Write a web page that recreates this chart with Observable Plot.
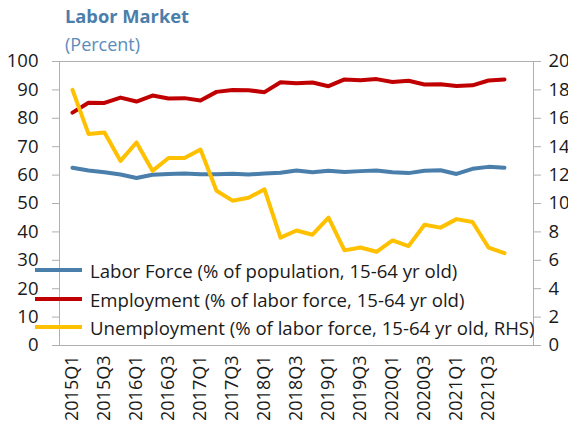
<!DOCTYPE html>
<html><head><meta charset="utf-8">
<script src="https://cdn.jsdelivr.net/npm/d3@7"></script>
<script src="https://cdn.jsdelivr.net/npm/@observablehq/plot@0.6"></script>
<style>
body{margin:0;background:#fff;font-family:"Open Sans",sans-serif}
#wrap{position:relative;width:568px;height:428px;overflow:hidden}
#title{position:absolute;left:65px;top:3px;font-weight:bold;font-size:18.3px;color:#4a7eab;white-space:nowrap}
#sub{position:absolute;left:65px;top:32px;font-size:18px;color:#5b8cbb;white-space:nowrap}
#chart{position:absolute;left:0;top:0}
.lg{position:absolute;left:35px;height:22px;display:flex;align-items:center;white-space:nowrap;font-size:18.6px;color:#1a1a1a}
.lg span.ln{display:inline-block;width:47px;height:4px;margin-right:8px}
</style></head><body>
<div id="wrap">
<div id="chart"></div>
<div id="title">Labor Market</div>
<div id="sub">(Percent)</div>
<div id="legend"></div>
</div>
<script>
const quarters = ["2015Q1","2015Q2","2015Q3","2015Q4","2016Q1","2016Q2","2016Q3","2016Q4",
"2017Q1","2017Q2","2017Q3","2017Q4","2018Q1","2018Q2","2018Q3","2018Q4",
"2019Q1","2019Q2","2019Q3","2019Q4","2020Q1","2020Q2","2020Q3","2020Q4",
"2021Q1","2021Q2","2021Q3","2021Q4","2022Q1"];
const laborForce = [62.6,61.6,61.0,60.2,59.0,60.1,60.4,60.6,60.3,60.3,60.5,60.2,60.6,60.8,61.6,61.0,61.5,61.1,61.4,61.6,61.0,60.7,61.5,61.7,60.4,62.2,62.9,62.6];
const employment = [82.0,85.5,85.4,87.3,85.9,88.0,87.0,87.1,86.3,89.3,90.0,89.9,89.2,92.7,92.3,92.6,91.3,93.7,93.4,93.8,92.8,93.2,91.9,92.0,91.4,91.6,93.3,93.7];
const unemployment = [18.0,14.9,15.0,13.0,14.3,12.3,13.2,13.2,13.8,10.9,10.2,10.4,11.0,7.6,8.1,7.8,9.0,6.7,6.9,6.6,7.4,7.0,8.5,8.3,8.9,8.7,6.9,6.5];
const leftTicks = [0,10,20,30,40,50,60,70,80,90,100];
const rightTicks = [0,2,4,6,8,10,12,14,16,18,20];
const tickLabels = ["2015Q1","2015Q3","2016Q1","2016Q3","2017Q1","2017Q3","2018Q1","2018Q3","2019Q1","2019Q3","2020Q1","2020Q3","2021Q1","2021Q3"];
const seriesNames = ["Labor Force (% of population, 15-64 yr old)","Employment (% of labor force, 15-64 yr old)","Unemployment (% of labor force, 15-64 yr old, RHS)"];
const seriesColors = ["#4a7eab","#c00000","#ffc000"];

const ratio = 100 / 20; // right axis to left axis
const data = laborForce.map((v,i)=>({q:quarters[i], labor:v, emp:employment[i], unemp:unemployment[i]}));

const chart = Plot.plot({
  width:568, height:428,
  marginLeft:59, marginRight:35, marginTop:61, marginBottom:83,
  style:{fontFamily:"Open Sans, sans-serif", fontSize:"18.5px", color:"#1a1a1a", background:"transparent"},
  x:{type:"point", domain:quarters, padding:0.5},
  y:{domain:[0,100]},
  marks:[
    Plot.frame({stroke:"#b0b0b0"}),
    Plot.axisY({ticks:leftTicks, tickSize:7, tickPadding:14, stroke:"#b0b0b0", fill:"#1a1a1a", label:null}),
    Plot.axisY({anchor:"right", ticks:rightTicks.map(d=>d*ratio), tickFormat:d=>String(d/ratio), tickSize:7, tickPadding:8, stroke:"#b0b0b0", fill:"#1a1a1a", label:null}),
    Plot.axisX({ticks:tickLabels, tickRotate:-90, tickSize:0, tickPadding:10, fontSize:18, fill:"#1a1a1a", label:null}),
    Plot.lineY(data,{x:"q", y:"labor", stroke:seriesColors[0], strokeWidth:4}),
    Plot.lineY(data,{x:"q", y:"emp", stroke:seriesColors[1], strokeWidth:4}),
    Plot.lineY(data,{x:"q", y:d=>d.unemp*ratio, stroke:seriesColors[2], strokeWidth:4})
  ]
});
document.getElementById("chart").appendChild(chart);

const lgTops = [259, 288, 316];
const legend = document.getElementById("legend");
seriesNames.forEach((name,i)=>{
  const div = document.createElement("div");
  div.className = "lg";
  div.style.top = lgTops[i] + "px";
  div.innerHTML = `<span class="ln" style="background:${seriesColors[i]}"></span><span>${name}</span>`;
  legend.appendChild(div);
});
</script>
</body></html>
